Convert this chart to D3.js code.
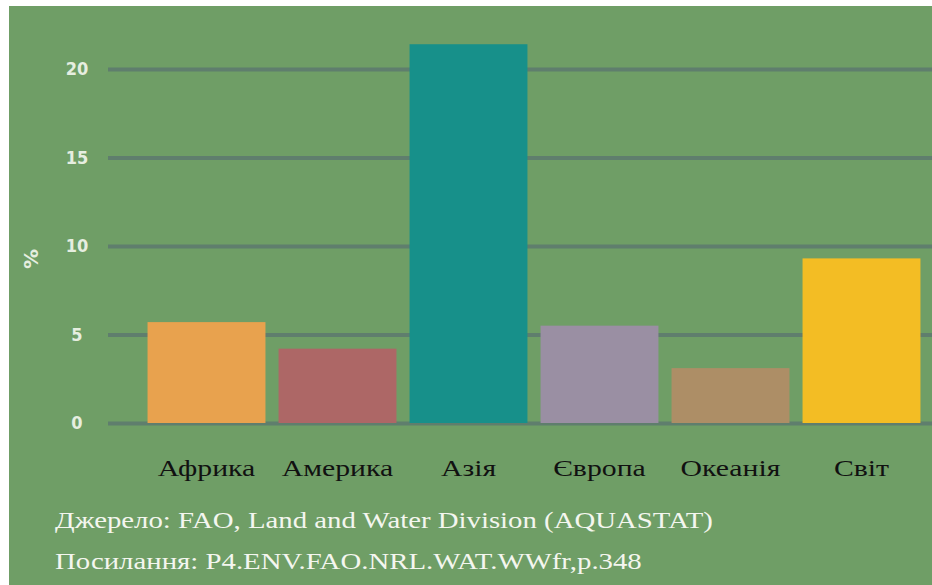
<!DOCTYPE html>
<html>
<head>
<meta charset="utf-8">
<script src="https://cdn.jsdelivr.net/npm/d3@7"></script>
<style>
  body { margin: 0; background: #fff; }
</style>
</head>
<body>
<div class="canvas"></div>
<script>
// data
const regions = ['Африка', 'Америка', 'Азія', 'Європа', 'Океанія', 'Світ'];
const values = [5.7, 4.2, 21.4, 5.5, 3.1, 9.3];
const colors = ['#e8a24e', '#ad6766', '#17908a', '#9a8fa3', '#ad8e66', '#f3bd24'];
const yTicks = [0, 5, 10, 15, 20];
const sourceLines = [
    'Джерело: FAO, Land and Water Division (AQUASTAT)',
    'Посилання: P4.ENV.FAO.NRL.WAT.WWfr,p.348'
];

const width = 932, height = 585;
const serif = '"Liberation Serif", "Times New Roman", Times, "DejaVu Serif", serif';
// the original picture is stretched sideways, so text is widened too
const stretch = 1.2;

const svg = d3.select('.canvas')
    .append('svg')
        .attr('width', width)
        .attr('height', height);

// green panel (white strip at top and left like the picture)
svg.append('rect')
    .attr('x', 9)
    .attr('y', 6)
    .attr('width', width - 9)
    .attr('height', height - 6)
    .attr('fill', '#6f9e66');

// scales
const x = d3.scaleBand()
    .domain(regions)
    .range([141, 927])
    .paddingInner(0.1)
    .paddingOuter(0.05);

const y = d3.scaleLinear()
    .domain([0, 20])
    .range([423, 69]);

// grid lines
const yAxisGroup = svg.append('g')
    .attr('class', 'y-axis')
    .attr('transform', 'translate(108, 0)');

const yAxis = d3.axisLeft(y)
    .tickValues(yTicks)
    .tickSize(-(width - 108))
    .tickFormat(d => d);

yAxisGroup.call(yAxis);
yAxisGroup.select('.domain').remove();
yAxisGroup.selectAll('line')
    .attr('stroke', '#5f7e6d')
    .attr('stroke-width', 4);
yAxisGroup.selectAll('text')
    .attr('x', -31)
    .attr('text-anchor', 'middle')
    .attr('fill', '#e6eee0')
    .style('font-family', '"Liberation Sans Narrow", "DejaVu Sans Condensed", sans-serif')
    .style('font-size', '18px')
    .style('font-weight', 'bold');

// y axis label
svg.append('text')
    .attr('transform', 'translate(38, 259) rotate(-90)')
    .attr('text-anchor', 'middle')
    .attr('fill', '#e6eee0')
    .style('font-family', '"DejaVu Sans", sans-serif')
    .style('font-size', '20px')
    .style('font-weight', 'bold')
    .text('%');

// bars
svg.selectAll('rect.bar')
    .data(values)
    .enter()
    .append('rect')
        .attr('class', 'bar')
        .attr('x', (d, i) => x(regions[i]))
        .attr('y', d => y(d))
        .attr('width', x.bandwidth())
        .attr('height', d => y(0) - y(d))
        .attr('fill', (d, i) => colors[i]);

// category labels
svg.selectAll('text.cat')
    .data(regions)
    .enter()
    .append('text')
        .attr('class', 'cat')
        .attr('transform', d => `translate(${x(d) + x.bandwidth() / 2}, 476) scale(${stretch + 0.04}, 1)`)
        .attr('text-anchor', 'middle')
        .attr('fill', '#111')
        .style('font-family', serif)
        .style('font-size', '24px')
        .text(d => d);

// source
svg.selectAll('text.src')
    .data(sourceLines)
    .enter()
    .append('text')
        .attr('class', 'src')
        .attr('transform', (d, i) => `translate(55, ${528 + i * 41}) scale(${stretch}, 1)`)
        .attr('fill', '#f4f6ef')
        .style('font-family', serif)
        .style('font-size', '24px')
        .text(d => d);
</script>
</body>
</html>
